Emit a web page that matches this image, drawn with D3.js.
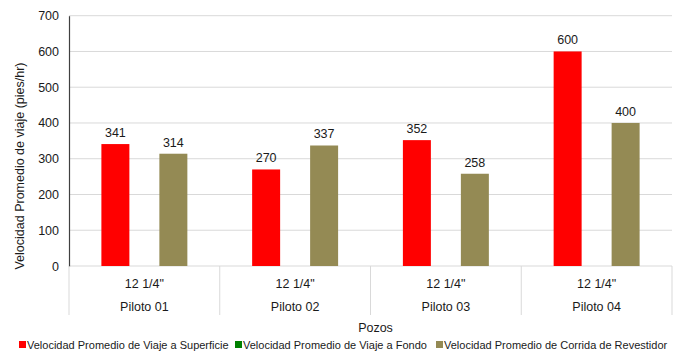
<!DOCTYPE html>
<html>
<head>
<meta charset="utf-8">
<script src="https://cdn.jsdelivr.net/npm/d3@7"></script>
<style>
  html, body { margin: 0; padding: 0; background: #fff; }
  svg { display: block; font-family: "Liberation Sans", Arial, sans-serif; }
</style>
</head>
<body>
<svg id="chart" width="678" height="354"></svg>
<script>
// Pozos and their bit size
const pozos = ["Piloto 01", "Piloto 02", "Piloto 03", "Piloto 04"];
const diametros = ["12 1/4\"", "12 1/4\"", "12 1/4\"", "12 1/4\""];

// Series (pies/hr)
const seriesNames = [
  "Velocidad Promedio de Viaje a Superficie",
  "Velocidad Promedio de Viaje a Fondo",
  "Velocidad Promedio de Corrida de Revestidor"
];
const viajeSuperficie = [341, 270, 352, 600];
const viajeFondo = [null, null, null, null];
const corridaRevestidor = [314, 337, 258, 400];
const seriesColors = ["#FF0000", "#008000", "#948A54"];

const yTicks = [0, 100, 200, 300, 400, 500, 600, 700];

const seriesValues = [viajeSuperficie, viajeFondo, corridaRevestidor];

const svg = d3.select("#chart");
const margin = { left: 69, right: 6, top: 15.7, bottom: 88 };
const W = 678, H = 354;
const x0 = margin.left, x1 = W - margin.right;
const yTop = margin.top, yBot = 266;

const x = d3.scaleBand().domain(pozos).range([x0, x1]).paddingInner(0).paddingOuter(0);
const xs = d3.scaleBand().domain(seriesNames).range([0, x.bandwidth()]).paddingInner(0.0).paddingOuter(1.1);
const y = d3.scaleLinear().domain([0, 700]).range([yBot, yTop]);

const textColor = "#1a1a1a";

// horizontal gridlines
svg.append("g")
  .selectAll("line")
  .data(yTicks)
  .join("line")
  .attr("x1", x0).attr("x2", x1)
  .attr("y1", d => y(d)).attr("y2", d => y(d))
  .attr("stroke", "#D9D9D9").attr("stroke-width", 1);

// y axis
const yAxis = svg.append("g")
  .attr("transform", `translate(${x0},0)`)
  .call(d3.axisLeft(y).tickValues(yTicks).tickSize(0).tickPadding(10));
yAxis.select(".domain").attr("stroke", "#404040").attr("stroke-width", 1.2);
yAxis.selectAll("text").attr("font-size", 12.5).attr("fill", textColor)
  .attr("font-family", "Liberation Sans, Arial, sans-serif");

// category separators below the plot (multi-level axis)
const sepX = pozos.map(p => x(p)).concat([x1]);
svg.append("g")
  .selectAll("line")
  .data(sepX)
  .join("line")
  .attr("x1", d => d).attr("x2", d => d)
  .attr("y1", yBot).attr("y2", 315)
  .attr("stroke", "#D9D9D9").attr("stroke-width", 1);

// bars
const groups = svg.append("g")
  .selectAll("g")
  .data(pozos)
  .join("g")
  .attr("transform", d => `translate(${x(d)},0)`);

groups.each(function(p, i) {
  const g = d3.select(this);
  seriesNames.forEach((s, k) => {
    const v = seriesValues[k][i];
    if (v == null) return;
    g.append("rect")
      .attr("x", xs(s) + 0.5)
      .attr("width", xs.bandwidth() - 1)
      .attr("y", y(v))
      .attr("height", y(0) - y(v))
      .attr("fill", seriesColors[k]);
    g.append("text")
      .attr("x", xs(s) + xs.bandwidth() / 2)
      .attr("y", y(v) - 7)
      .attr("text-anchor", "middle")
      .attr("font-size", 12.5)
      .attr("fill", textColor)
      .text(v);
  });
});

// category labels
groups.append("text")
  .attr("x", x.bandwidth() / 2)
  .attr("y", 288)
  .attr("text-anchor", "middle")
  .attr("font-size", 12.5)
  .attr("fill", textColor)
  .text((d, i) => diametros[i]);
groups.append("text")
  .attr("x", x.bandwidth() / 2)
  .attr("y", 311)
  .attr("text-anchor", "middle")
  .attr("font-size", 12.5)
  .attr("fill", textColor)
  .text(d => d);

// axis titles
svg.append("text")
  .attr("x", (x0 + x1) / 2 + 5)
  .attr("y", 332)
  .attr("text-anchor", "middle")
  .attr("font-size", 12.5)
  .attr("fill", textColor)
  .text("Pozos");

svg.append("text")
  .attr("transform", `translate(24,${166}) rotate(-90)`)
  .attr("text-anchor", "middle")
  .attr("font-size", 12.5)
  .attr("fill", textColor)
  .text("Velocidad Promedio de viaje (pies/hr)");

// legend
const legendX = [19, 235, 436];
const legend = svg.append("g")
  .selectAll("g")
  .data(seriesNames)
  .join("g")
  .attr("transform", (d, i) => `translate(${legendX[i]},345)`);
legend.append("rect")
  .attr("x", 0).attr("y", -4)
  .attr("width", 7).attr("height", 7)
  .attr("fill", (d, i) => seriesColors[i]);
legend.append("text")
  .attr("x", 8)
  .attr("y", 4)
  .attr("font-size", 11)
  .attr("fill", textColor)
  .text(d => d);
</script>
</body>
</html>
